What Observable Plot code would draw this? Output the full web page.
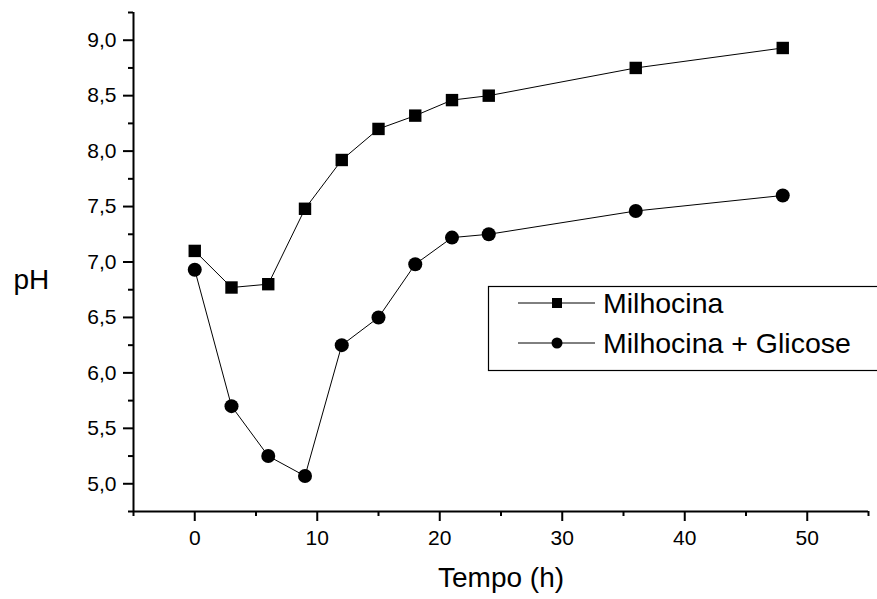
<!DOCTYPE html>
<html>
<head>
<meta charset="utf-8">
<script src="https://cdn.jsdelivr.net/npm/d3@7"></script>
<script src="https://cdn.jsdelivr.net/npm/@observablehq/plot@0.6"></script>
<style>
  body { margin: 0; background: #fff; }
  #wrap { position: relative; width: 877px; height: 599px; overflow: hidden; }
  #legend { position: absolute; left: 0; top: 0; pointer-events: none; }
</style>
</head>
<body>
<div id="wrap"></div>
<script>
const tempo = [0, 3, 6, 9, 12, 15, 18, 21, 24, 36, 48];
const phMilhocina = [7.10, 6.77, 6.80, 7.48, 7.92, 8.20, 8.32, 8.46, 8.50, 8.75, 8.93];
const phGlicose = [6.93, 5.70, 5.25, 5.07, 6.25, 6.50, 6.98, 7.22, 7.25, 7.46, 7.60];
const seriesNames = ["Milhocina", "Milhocina + Glicose"];
const xMajor = [0, 10, 20, 30, 40, 50];
const xMinor = [-5, 5, 15, 25, 35, 45, 55];
const yMajor = [5.0, 5.5, 6.0, 6.5, 7.0, 7.5, 8.0, 8.5, 9.0];
const yMinor = [4.75, 5.25, 5.75, 6.25, 6.75, 7.25, 7.75, 8.25, 8.75, 9.25];
const xLabel = "Tempo (h)";
const yLabel = "pH";

const dataM = tempo.map((t, i) => ({t, ph: phMilhocina[i]}));
const dataG = tempo.map((t, i) => ({t, ph: phGlicose[i]}));
const font = "'Liberation Sans', Arial, sans-serif";

const chart = Plot.plot({
  width: 877,
  height: 599,
  marginLeft: 133,
  marginTop: 12,
  marginRight: 9,
  marginBottom: 88,
  style: {fontFamily: font, color: "black", background: "white", overflow: "visible"},
  x: {domain: [-5, 55]},
  y: {domain: [4.75, 9.25]},
  marks: [
    Plot.axisX({ticks: xMinor, tickSize: 5, strokeWidth: 2, text: null, label: null}),
    Plot.axisX({ticks: xMajor, tickSize: 10, strokeWidth: 2, tickPadding: 9, fontSize: 21, label: null, tickFormat: d => String(d)}),
    Plot.axisY({ticks: yMinor, tickSize: 5, strokeWidth: 2, text: null, label: null}),
    Plot.axisY({ticks: yMajor, tickSize: 10, strokeWidth: 2, tickPadding: 7, fontSize: 21, label: null,
      tickFormat: d => d.toFixed(1).replace(".", ",")}),
    Plot.ruleY([4.75], {strokeWidth: 2}),
    Plot.ruleX([-5], {strokeWidth: 2}),
    Plot.line(dataM, {x: "t", y: "ph", stroke: "black", strokeWidth: 1}),
    Plot.line(dataG, {x: "t", y: "ph", stroke: "black", strokeWidth: 1}),
    Plot.dot(dataM, {x: "t", y: "ph", symbol: "square", r: 7, fill: "black", stroke: "none"}),
    Plot.dot(dataG, {x: "t", y: "ph", symbol: "circle", r: 7, fill: "black", stroke: "none"}),
    Plot.text([xLabel], {frameAnchor: "bottom", dy: 75, fontSize: 28, fill: "black"}),
    Plot.text([yLabel], {frameAnchor: "left", dx: -120, dy: 18, textAnchor: "start", fontSize: 28, fill: "black"})
  ]
});
document.getElementById("wrap").appendChild(chart);

// Legend inside the plot area
const svg = d3.select("#wrap").append("svg")
  .attr("id", "legend").attr("width", 877).attr("height", 599);
svg.append("rect").attr("x", 488.5).attr("y", 286.5).attr("width", 420).attr("height", 84)
  .attr("fill", "white").attr("stroke", "black").attr("stroke-width", 1.2);
const rows = [{name: seriesNames[0], sym: "square", y: 303}, {name: seriesNames[1], sym: "circle", y: 343}];
rows.forEach(r => {
  svg.append("line").attr("x1", 518).attr("x2", 595).attr("y1", r.y).attr("y2", r.y)
    .attr("stroke", "black").attr("stroke-width", 1);
  if (r.sym === "square") {
    svg.append("rect").attr("x", 557 - 5).attr("y", r.y - 5).attr("width", 10).attr("height", 10).attr("fill", "black");
  } else {
    svg.append("circle").attr("cx", 557).attr("cy", r.y).attr("r", 5.5).attr("fill", "black");
  }
  svg.append("text").attr("x", 603).attr("y", r.y).attr("dy", "0.35em")
    .attr("font-family", font).attr("font-size", 28.5).attr("fill", "black").text(r.name);
});
</script>
</body>
</html>
